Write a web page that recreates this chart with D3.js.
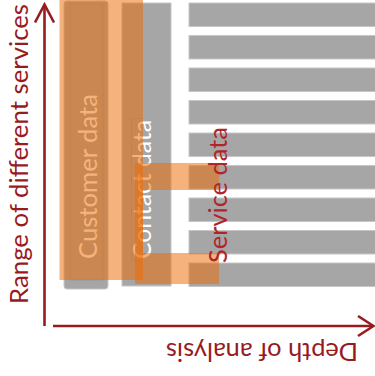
<!DOCTYPE html>
<html>
<head>
<meta charset="utf-8">
<script src="https://cdn.jsdelivr.net/npm/d3@7/dist/d3.min.js"></script>
<style>
  html, body { margin: 0; padding: 0; background: #fff; }
  svg { display: block; }
  text { font-family: Lato, "Open Sans", sans-serif; }
</style>
</head>
<body>
<svg id="chart" width="375" height="376"></svg>
<script>
// One horizontal bar per service offered
const services = d3.range(9);
// Data blocks, from the broadest to the deepest
const segments = ["Customer data", "Contact data", "Service data"];
// Services whose data is joined to the contact data
const linkedServices = [5, 8];
const axisLabels = ["Range of different services", "Depth of analysis"];

const red = "#971b1f";
const grey = "#a6a6a6";
const greyEdge = "#c6c6c6";
const orange = "rgb(236,108,4)";
const orangeOpacity = 0.52;

const svg = d3.select("#chart");

// Vertical scale: one band per service row
const y = d3.scaleBand().domain(services).range([3, 286.5]).paddingInner(0.277);
// Horizontal extent of each data block
const x = d3.scaleOrdinal().domain(segments).range([[64, 108], [122, 171], [189, 380]]);

// Vertical data columns
const columns = svg.append("g");
columns.append("rect")
  .attr("x", x(segments[0])[0]).attr("y", 1)
  .attr("width", x(segments[0])[1] - x(segments[0])[0]).attr("height", 288)
  .attr("rx", 3)
  .attr("fill", grey).attr("stroke", greyEdge).attr("stroke-width", 1);
columns.append("rect")
  .attr("x", x(segments[1])[0]).attr("y", 3)
  .attr("width", x(segments[1])[1] - x(segments[1])[0]).attr("height", 283)
  .attr("fill", grey).attr("stroke", greyEdge).attr("stroke-width", 1);

// Service rows
svg.append("g").selectAll("rect")
  .data(services)
  .join("rect")
  .attr("x", x(segments[2])[0])
  .attr("y", d => y(d))
  .attr("width", x(segments[2])[1] - x(segments[2])[0])
  .attr("height", y.bandwidth())
  .attr("fill", grey).attr("stroke", greyEdge).attr("stroke-width", 1);

// Vertical label helper: text reads bottom to top
function vLabel(g, txt, bx, by, len, fill) {
  return g.append("text")
    .attr("transform", `translate(${bx},${by}) rotate(-90)`)
    .attr("font-size", 25)
    .attr("textLength", len)
    .attr("lengthAdjust", "spacingAndGlyphs")
    .attr("fill", fill)
    .text(txt);
}

const labels = svg.append("g");
vLabel(labels, segments[0], 97, 259, 165, "#fff");
vLabel(labels, segments[1], 151, 259, 139, "#fff");

// Faint text frames, only showing under the highlight
const frame = labels.append("g").attr("fill", "none")
  .attr("stroke", "rgba(110,110,110,0.22)").attr("stroke-width", 1);
frame.append("rect").attr("x", 70).attr("y", 4).attr("width", 33).attr("height", 276);
frame.append("polyline").attr("points", "142,118.5 131.5,118.5 131.5,260 142,260");

// Highlight overlays
const overlay = svg.append("g").attr("fill", orange).attr("fill-opacity", orangeOpacity);
overlay.append("rect").attr("x", 59.5).attr("y", 0).attr("width", 83.5).attr("height", 280);

const armTop = y(linkedServices[0]) - 2.5, armTopEnd = y(linkedServices[0]) + y.bandwidth() + 1;
const armLow = y(linkedServices[1]) - 10, armLowEnd = y(linkedServices[1]) + y.bandwidth() - 2.5;
const p = d3.path();
p.moveTo(135, armTop);
p.lineTo(219, armTop);
p.lineTo(219, armTopEnd);
p.lineTo(143, armTopEnd);
p.lineTo(143, armLow);
p.lineTo(219, armLow);
p.lineTo(219, armLowEnd);
p.lineTo(135, armLowEnd);
p.closePath();
overlay.append("path").attr("d", p.toString());

vLabel(svg, segments[2], 227, 263, 136, "#b0252a");

// Axes with open arrow heads
const axes = svg.append("g").attr("stroke", red).attr("stroke-width", 2.6)
  .attr("fill", "none").attr("stroke-linecap", "butt");
axes.append("line").attr("x1", 44.5).attr("y1", 5).attr("x2", 44.5).attr("y2", 326);
axes.append("polyline").attr("points", "35,22.5 44.5,4.5 54,22.5");
axes.append("line").attr("x1", 53).attr("y1", 326).attr("x2", 373).attr("y2", 326);
axes.append("polyline").attr("points", "358,316 373.5,326 358,336");

vLabel(svg, axisLabels[0], 27.5, 304, 300, red);
svg.append("text")
  .attr("transform", "translate(358,343) rotate(180)")
  .attr("font-size", 25)
  .attr("textLength", 192)
  .attr("lengthAdjust", "spacingAndGlyphs")
  .attr("fill", red)
  .text(axisLabels[1]);
</script>
</body>
</html>
